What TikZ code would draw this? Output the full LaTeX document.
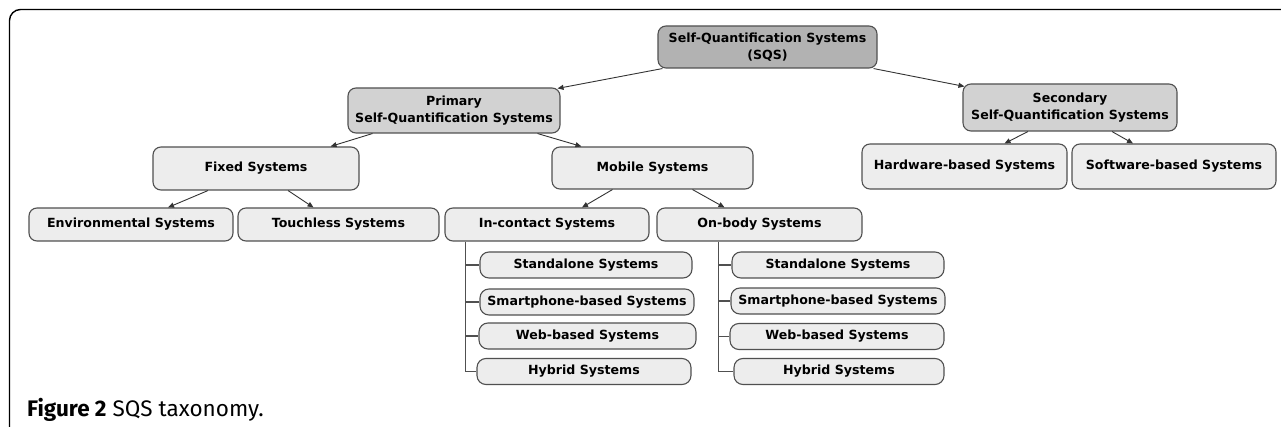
\documentclass[tikz,border=0pt]{standalone}
\usepackage{fontspec}
\setmainfont{DejaVu Sans}
\newfontfamily\capfont{Fira Sans}
\usetikzlibrary{arrows.meta}
\definecolor{bordc}{HTML}{505050}
\definecolor{topc}{HTML}{B2B2B2}
\definecolor{midc}{HTML}{D2D2D2}
\definecolor{leafc}{HTML}{EDEDED}
\definecolor{linec}{HTML}{333333}
\tikzset{
  box/.style={draw=bordc, line width=1.1pt, rounded corners=8pt, fill=leafc,
    font=\fontsize{12.6}{17}\selectfont\bfseries, align=center, inner sep=0pt},
  topbox/.style={box, fill=topc},
  midbox/.style={box, fill=midc},
  leaf/.style={box, rounded corners=9pt, minimum height=26pt},
  arr/.style={draw=linec, line width=0.9pt, -{Triangle[length=6pt,width=5pt]}},
  tree/.style={draw=bordc, line width=1.1pt},
}
\begin{document}
\begin{tikzpicture}[x=1pt,y=-1pt]
\useasboundingbox (0,0) rectangle (1281,427);
\begin{scope}
\clip (0,0) rectangle (1281,427);
\draw[line width=1.4pt, rounded corners=11pt] (9.5,9.5) rectangle (1320,460);
\end{scope}

\node[topbox, minimum width=219pt, minimum height=42pt] (sqs) at (767.5,47) {Self-Quantification Systems\\(SQS)};
\node[midbox, minimum width=212pt, minimum height=45pt] (prim) at (454,110.5) {Primary\\Self-Quantification Systems};
\node[midbox, minimum width=214pt, minimum height=47pt] (sec) at (1070,107.5) {Secondary\\Self-Quantification Systems};

\node[box, minimum width=206pt, minimum height=43pt] (fixed) at (256,168.5) {Fixed Systems};
\node[box, minimum width=201pt, minimum height=42pt] (mob) at (652.5,168) {Mobile Systems};
\node[box, minimum width=205pt, minimum height=45pt] (hw) at (964.5,166.5) {Hardware-based Systems};
\node[box, minimum width=204pt, minimum height=45pt] (sw) at (1174,166.5) {Software-based Systems};

\node[box, minimum width=204pt, minimum height=33pt] (env) at (131,224.5) {Environmental Systems};
\node[box, minimum width=201pt, minimum height=33pt] (touch) at (338.5,224.5) {Touchless Systems};
\node[box, minimum width=204pt, minimum height=33pt] (ic) at (547,224.5) {In-contact Systems};
\node[box, minimum width=205pt, minimum height=33pt] (ob) at (759.5,224.5) {On-body Systems};

\node[leaf, minimum width=212pt] (ic1) at (586,265) {Standalone Systems};
\node[leaf, minimum width=214pt] (ic2) at (587,302) {Smartphone-based Systems};
\node[leaf, minimum width=217pt] (ic3) at (587.5,336) {Web-based Systems};
\node[leaf, minimum width=214pt] (ic4) at (584,371.5) {Hybrid Systems};

\node[leaf, minimum width=212pt] (ob1) at (838,265) {Standalone Systems};
\node[leaf, minimum width=214pt] (ob2) at (838,301) {Smartphone-based Systems};
\node[leaf, minimum width=214pt] (ob3) at (837,336.5) {Web-based Systems};
\node[leaf, minimum width=210pt] (ob4) at (839,371.5) {Hybrid Systems};

\coordinate (ict) at ([xshift=21pt]ic.south west);
\draw[tree] (ict) |- (ic4.west);
\draw[tree] (ict |- ic1.west) -- (ic1.west);
\draw[tree] (ict |- ic2.west) -- (ic2.west);
\draw[tree] (ict |- ic3.west) -- (ic3.west);

\coordinate (obt) at ([xshift=62pt]ob.south west);
\draw[tree] (obt) |- (ob4.west);
\draw[tree] (obt |- ob1.west) -- (ob1.west);
\draw[tree] (obt |- ob2.west) -- (ob2.west);
\draw[tree] (obt |- ob3.west) -- (ob3.west);

\draw[arr] ([xshift=5pt]sqs.south west) -- ([xshift=-3pt,yshift=-1pt]prim.north east);
\draw[arr] ([xshift=-4pt]sqs.south east) -- ([xshift=2pt,yshift=-3pt]sec.north west);
\draw[arr] ([xshift=25pt]prim.south west) -- ([xshift=-29pt]fixed.north east);
\draw[arr] ([xshift=-23pt]prim.south east) -- ([xshift=30pt]mob.north west);
\draw[arr] ([xshift=-48pt]fixed.south) -- ([xshift=37pt]env.north);
\draw[arr] ([xshift=32pt]fixed.south) -- ([xshift=-25pt]touch.north);
\draw[arr] ([xshift=-40pt]mob.south) -- ([xshift=35pt]ic.north);
\draw[arr] ([xshift=40pt]mob.south) -- ([xshift=-35pt]ob.north);
\draw[arr] ([xshift=-42pt]sec.south) -- ([xshift=40pt]hw.north);
\draw[arr] ([xshift=42pt]sec.south) -- ([xshift=-41pt]sw.north);

\node[anchor=base west, inner sep=0pt, font=\capfont\fontsize{22.5}{26}\selectfont] (cap) at (27,416) {\textbf{Figure 2} SQS taxonomy.};
\end{tikzpicture}
\end{document}
